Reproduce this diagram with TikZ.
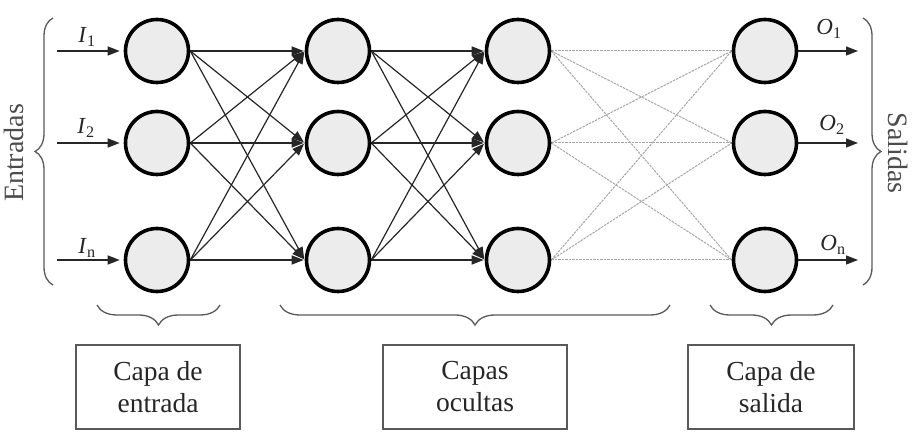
\documentclass[tikz,border=0pt]{standalone}
\usepackage{fontspec}
\setmainfont{Liberation Serif}
\usetikzlibrary{arrows.meta,decorations.pathreplacing,backgrounds}
\begin{document}
\begin{tikzpicture}[x=1pt,y=1pt,
  neuron/.style={circle,draw=black,line width=3.6pt,fill=gray!15,minimum size=63pt,inner sep=0pt},
  conn/.style={line width=1.2pt,draw=black!85,-{Triangle[length=12pt,width=9pt]},shorten >=1pt},
  faint/.style={line width=1pt,draw=black!35,dash pattern=on 2.5pt off 1pt},
  ioarrow/.style={line width=1.3pt,draw=black!85,-{Triangle[length=12pt,width=9pt]}},
  brc/.style={decorate,decoration={brace,amplitude=#1},draw=black!65,line width=1.3pt},
  lbl/.style={font=\fontsize{23}{26}\selectfont,text=black!85,inner sep=0pt},
  boxlabel/.style={draw=black!65,line width=1.5pt,align=center,font=\fontsize{27.5}{32}\selectfont,text=black!85,inner sep=0pt},
  side/.style={font=\fontsize{28}{32}\selectfont,text=black!70,inner sep=0pt}]
\path[use as bounding box] (0,0) rectangle (917,441);

% neurons
\foreach \c/\x in {1/157,2/338,3/518,4/765}
  \foreach \r/\y in {1/390,2/298,3/181}
    \node[neuron] (n\c\r) at (\x,\y) {};

% connections
\begin{scope}[on background layer]
\foreach \i in {1,2,3}
  \foreach \j in {1,2,3} {
    \draw[conn] (n1\i.east) -- (n2\j.west);
    \draw[conn] (n2\i.east) -- (n3\j.west);
    \draw[faint] (n3\i.east) -- (n4\j.west);
  }
\end{scope}

% inputs and outputs
\coordinate (in1) at (57,390);
\coordinate (in2) at (57,298);
\coordinate (in3) at (57,181);
\coordinate (out1) at (858,390);
\coordinate (out2) at (858,298);
\coordinate (out3) at (858,181);
\foreach \r in {1,2,3} {
  \draw[ioarrow,shorten >=4pt] (in\r) -- (n1\r.west);
  \draw[ioarrow] (n4\r.east) -- (out\r);
}
\node[lbl] (li1) at (87,404) {\textit{I}\textsubscript{1}};
\node[lbl] (li2) at (86,313) {\textit{I}\textsubscript{2}};
\node[lbl] (li3) at (87,193) {\textit{I}\textsubscript{n}};
\node[lbl] (lo1) at (829,412) {\textit{O}\textsubscript{1}};
\node[lbl] (lo2) at (832,316) {\textit{O}\textsubscript{2}};
\node[lbl] (lo3) at (833,196) {\textit{O}\textsubscript{n}};

% side braces
\draw[brc=18pt] (53,156) -- (53,423);
\draw[brc=18pt] (863,423) -- (863,156);
\node[side,rotate=90] (ent) at (14,288) {Entradas};
\node[side,rotate=-90] (sal) at (898,288) {Salidas};

% bottom braces
\draw[brc=20pt] (220,136) -- (97,136);
\draw[brc=20pt] (670,136) -- (280,136);
\draw[brc=20pt] (833,136) -- (710,136);

% boxes
\node[boxlabel,minimum width=164pt,minimum height=84pt] (b1) at (158,54) {Capa de\\entrada};
\node[boxlabel,minimum width=184pt,minimum height=84pt] (b2) at (475,54) {Capas\\ocultas};
\node[boxlabel,minimum width=166pt,minimum height=84pt] (b3) at (771,54) {Capa de\\salida};
\end{tikzpicture}
\end{document}
